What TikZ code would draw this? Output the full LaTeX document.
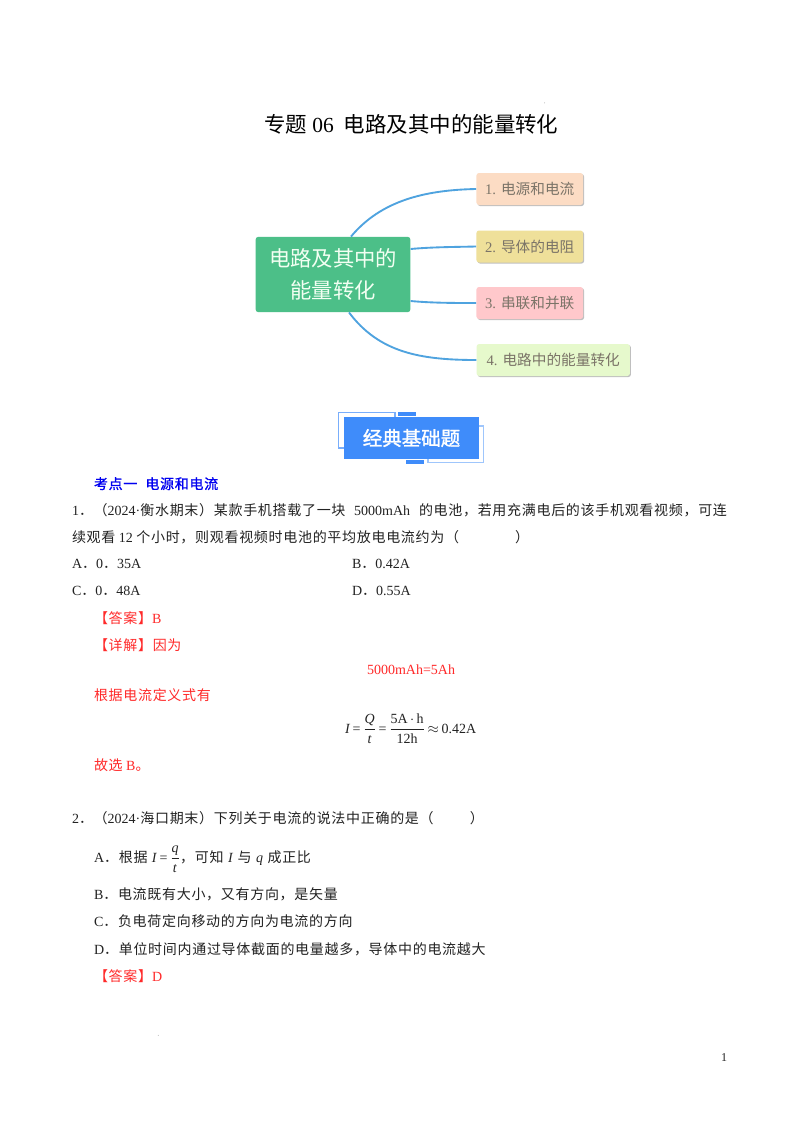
\documentclass[tikz,border=0pt]{standalone}
\usepackage{fontspec}
\usetikzlibrary{shadows}
\setmainfont{Liberation Serif}
\newfontfamily\cjk[LetterSpace=5]{Noto Sans CJK SC}
\newfontfamily\cjkp{Noto Sans CJK SC}
\newcommand\Z[1]{{\cjk #1}}
\newcommand\Y[1]{{\cjkp #1}}
\newcommand\fit[2]{\makebox[#1\dimexpr0.75pt\relax][s]{#2}}
\newcommand\fsz{\fontsize{10.5}{12}\selectfont}
\definecolor{ink}{HTML}{222222}
\definecolor{ansred}{HTML}{FF2A2A}
\definecolor{linkblue}{HTML}{4FA3DF}
\definecolor{tagtext}{HTML}{7B7468}
\definecolor{banner}{HTML}{3F8CFA}
\tikzset{
  x=0.75pt,y=-0.75pt,
  line/.style={anchor=base west,inner sep=0pt,outer sep=0pt,font=\fsz,text=ink},
  ans/.style={line,text=ansred},
  topicbox/.style={rounded corners=2pt,inner sep=0pt,text=tagtext,font=\fontsize{11}{13}\selectfont,
    drop shadow={shadow xshift=0.8pt,shadow yshift=-0.8pt,opacity=.25,fill=black}},
  link/.style={draw=linkblue,line width=1.4pt},
}
\begin{document}
\begin{tikzpicture}
\useasboundingbox (0,0) rectangle (800,1132);
\fill[white] (0,0) rectangle (800,1132);
\fill[gray!60] (544.5,102.8) circle (0.5);
\fill[gray!60] (158.3,1035.3) circle (0.5);
% title
\node[line,font=\fontsize{16.1}{18}\selectfont,text=black] (title) at (264,132) {\Y{专题} 06\hspace{7.5pt}\Y{电路及其中的能量转化}};
% mind map
\node[fill={rgb,255:red,76;green,191;blue,136},rounded corners=2pt,minimum width=116pt,minimum height=56.5pt,inner sep=0pt,
      text=white!95!green,font=\fontsize{16}{24}\selectfont,align=center] (root) at (333,274.5) {\Y{电路及其中的}\\\Y{能量转化}};
\node[topicbox,fill={rgb,255:red,252;green,220;blue,196},minimum width=80pt,minimum height=24pt] (t1) at (529.75,189) {1. \Y{电源和电流}};
\node[topicbox,fill={rgb,255:red,239;green,224;blue,154},minimum width=80pt,minimum height=24pt] (t2) at (529.75,246.5) {2. \Y{导体的电阻}};
\node[topicbox,fill={rgb,255:red,255;green,200;blue,203},minimum width=80pt,minimum height=24pt] (t3) at (529.75,303) {3. \Y{串联和并联}};
\node[topicbox,fill={rgb,255:red,230;green,249;blue,204},minimum width=115pt,minimum height=24pt] (t4) at (553.25,360) {4. \Y{电路中的能量转化}};
\draw[link] (root.north) ++(18,0) .. controls +(30,-36) and (425,190) .. (t1.west);
\draw[link] (root.east |- 0,249) .. controls (432,247) and (455,247) .. (t2.west);
\draw[link] (root.east |- 0,301) .. controls (432,303) and (455,303) .. (t3.west);
\draw[link] (root.south) ++(16,0) .. controls +(30,40) and (420,360) .. (t4.west);
% banner
\draw[banner!70,line width=1pt] (395,417) -- (395,412.5) -- (338.5,412.5) -- (338.5,448) -- (344,448);
\draw[banner!50,line width=1pt] (428,459) -- (428,462.5) -- (483.5,462.5) -- (483.5,426) -- (479,426);
\fill[banner] (398,412) rectangle (416,415.5);
\fill[banner] (406,460) rectangle (424,463.5);
\node[fill=banner,minimum width=101.25pt,minimum height=31.5pt,inner sep=0pt,text=white,
      font=\fontsize{14.6}{16}\selectfont] (bannerbox) at (411.5,438) {\Y{\addfontfeatures{FakeBold=1.6}经典基础题}};
% question 1
\node[line,text={rgb,255:red,0;green,0;blue,240}] (kd) at (94,489) {\Z{\addfontfeatures{FakeBold=1}考点一}\hspace{6pt}\Z{\addfontfeatures{FakeBold=1}电源和电流}};
\node[line] (q1a) at (72,515) {\fit{655}{1\Z{．（}2024·\Z{衡水期末）某款手机搭载了一块} 5000mAh \Z{的电池，若用充满电后的该手机观看视频，可连}}};
\node[line] (q1b) at (72,542) {\fit{457}{\Z{续观看} 12 \Z{个小时，则观看视频时电池的平均放电电流约为（}\hfill\Z{）}}};
\node[line] (oa) at (72,568) {A\Z{．}0\Z{．}35A};
\node[line] (ob) at (352,568) {B\Z{．}0.42A};
\node[line] (oc) at (72,595) {C\Z{．}0\Z{．}48A};
\node[line] (od) at (352,595) {D\Z{．}0.55A};
\node[ans] (a1) at (94,623) {\Z{【答案】}B};
\node[ans] (a2) at (94,650) {\Z{【详解】因为}};
\node[ans] (a3) at (367,674) {5000mAh=5Ah};
\node[ans] (a4) at (94,700) {\Z{根据电流定义式有}};
\node[line] (f1) at (345,733) {\textit{I}$\,$=$\,$$\displaystyle\frac{\mbox{\fsz\textit{Q}}}{\mbox{\fsz\textit{t}}}$$\,$=$\,$$\displaystyle\frac{\mbox{\fsz 5A$\,\cdot\,$h}}{\mbox{\fsz 12h}}$$\,\approx\,$0.42A};
\node[ans] (a5) at (94,770) {\Z{故选} B\Z{。}};
% question 2
\node[line] (q2) at (72,823) {\fit{412}{2\Z{．（}2024·\Z{海口期末）下列关于电流的说法中正确的是（}\hfill\Z{）}}};
\node[line] (q2a) at (94,862) {\fit{217}{A\Z{．根据} \textit{I}$\,$=$\,$$\displaystyle\frac{\mbox{\fsz\textit{q}}}{\mbox{\fsz\textit{t}}}$\Z{，可知} \textit{I} \Z{与} \textit{q} \Z{成正比}}};
\node[line] (q2b) at (94,899) {B\Z{．电流既有大小，又有方向，是矢量}};
\node[line] (q2c) at (94,926) {C\Z{．负电荷定向移动的方向为电流的方向}};
\node[line] (q2d) at (94,954) {D\Z{．单位时间内通过导体截面的电量越多，导体中的电流越大}};
\node[ans] (a6) at (94,981) {\Z{【答案】}D};
\node[line,font=\fontsize{9}{11}\selectfont] (pg) at (721,1061) {1};
\end{tikzpicture}
\end{document}
